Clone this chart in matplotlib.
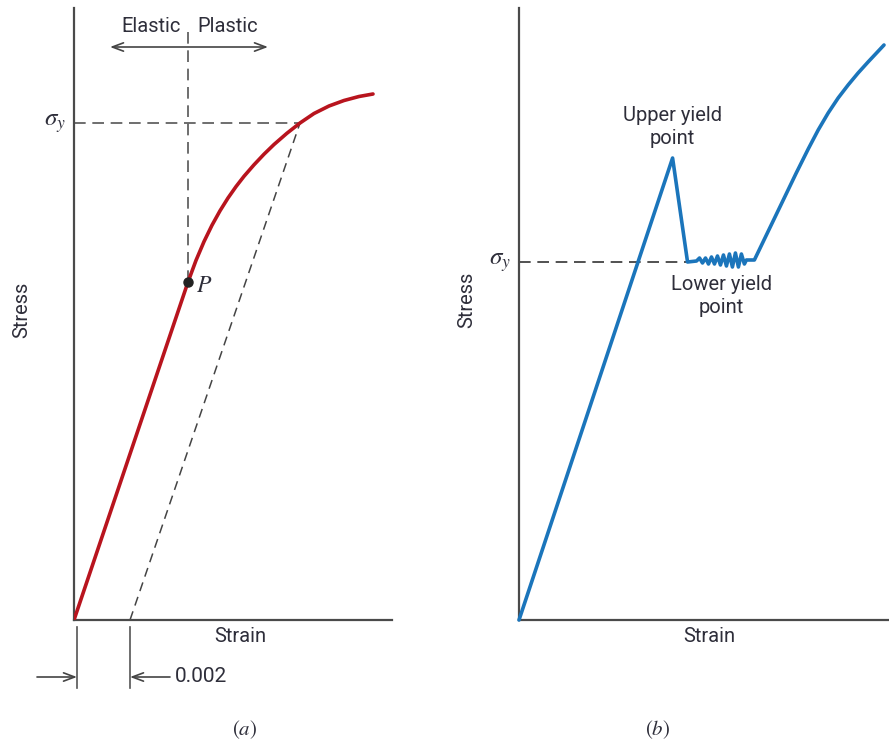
import matplotlib
matplotlib.use("Agg")
import matplotlib.pyplot as plt

plt.rcParams['font.family'] = ['Roboto', 'DejaVu Sans']
plt.rcParams['mathtext.fontset'] = 'stix'

RED = '#b8141e'
BLUE = '#1b75bb'
TXT = '#2e2e3a'
AX = '#4a4a4a'
DASH = '#555555'

# ---- panel (a) data (strain, stress in arbitrary units) ----
a_strain = [0, 114, 122, 130, 138, 146, 154, 162, 170, 180, 190, 200, 213, 226,
            240, 255, 270, 285, 299]
a_stress = [0, 338, 359.6, 378.4, 394.8, 409.2, 422, 433.4, 443.7, 455.2, 465.8,
            475.5, 486.8, 497, 506.5, 514, 519.5, 523.5, 526]
a_P = (114, 338)
a_yield = (226, 497)
a_offset_start = 56          # 0.002 offset strain
a_xlim = (0, 318)
a_ylim = (0, 612)

# ---- panel (b) data ----
b_strain = [0, 154, 169, 178, 181, 184, 187, 190, 193, 196, 199, 202, 205,
            208, 211, 214, 217, 220, 223, 226, 228, 236,
            250, 264, 278, 290, 300, 310, 320, 330, 340, 350, 358, 366]
b_stress = [0, 462, 358, 359, 362, 357, 362, 356, 363, 356, 364, 355, 365,
            354, 366, 353, 367, 353, 366, 356, 360, 360,
            389, 418, 447, 471, 490, 507, 522, 535, 547, 558, 566.5, 575]
b_upper = (154, 462)
b_sigy = 358
b_xlim = (0, 370)
b_ylim = (0, 612)

W, H = 889, 740
fig = plt.figure(figsize=(W / 100, H / 100), dpi=100)

def make_ax(left_px, right_px, top_px, bottom_px):
    ax = fig.add_axes([left_px / W, 1 - bottom_px / H,
                       (right_px - left_px) / W, (bottom_px - top_px) / H])
    ax.set_facecolor('none')
    for s in ['top', 'right']:
        ax.spines[s].set_visible(False)
    for s in ['left', 'bottom']:
        ax.spines[s].set_color(AX)
        ax.spines[s].set_linewidth(1.6)
    ax.set_xticks([])
    ax.set_yticks([])
    return ax

FS = 14.5

# ================= panel (a) =================
axa = make_ax(74, 392, 8, 620)
axa.set_xlim(*a_xlim)
axa.set_ylim(*a_ylim)

axa.plot(a_strain, a_stress, color=RED, lw=2.6, solid_capstyle='round',
         solid_joinstyle='round', zorder=3)
axa.plot([a_P[0]], [a_P[1]], 'o', color='#222222', ms=6.5, zorder=4)
axa.text(a_P[0] + 8, a_P[1] - 3, r'$P$', fontsize=17, color=TXT, va='center', ha='left')

# offset line
axa.plot([a_offset_start, a_yield[0]], [0, a_yield[1]], color='#444444', lw=1.1,
         ls=(0, (6, 4)), zorder=2)
# sigma_y horizontal
axa.plot([0, a_yield[0]], [a_yield[1], a_yield[1]], color=DASH, lw=1.2,
         ls=(0, (7, 4)), zorder=2)
# vertical from P
axa.plot([a_P[0], a_P[0]], [a_P[1], 590], color=DASH, lw=1.2,
         ls=(0, (7, 4)), zorder=2)
axa.text(-8, a_yield[1], r'$\sigma_y$', fontsize=18, color=TXT, ha='right',
         va='center', clip_on=False)

# Elastic / Plastic arrow
axa.annotate('', xy=(36, 573), xytext=(194, 573),
             arrowprops=dict(arrowstyle='<->,head_length=0.8,head_width=0.3',
                             color='#444444', lw=1.2, shrinkA=0, shrinkB=0),
             annotation_clip=False)
axa.text(a_P[0] - 7, 594, 'Elastic', fontsize=FS, color=TXT, ha='right', va='center')
axa.text(a_P[0] + 9, 594, 'Plastic', fontsize=FS, color=TXT, ha='left', va='center')

axa.text(-52, 310, 'Stress', fontsize=FS, color=TXT, rotation=90,
         ha='center', va='center', clip_on=False)
axa.text(166, -16, 'Strain', fontsize=FS, color=TXT, ha='center', va='center',
         clip_on=False)

# 0.002 dimension
for xx in (3, a_offset_start):
    axa.plot([xx, xx], [-7, -68], color='#555555', lw=1.2, clip_on=False)
axa.annotate('', xy=(3, -57), xytext=(-37, -57),
             arrowprops=dict(arrowstyle='->,head_length=0.8,head_width=0.3',
                             color='#444444', lw=1.2, shrinkA=0, shrinkB=0),
             annotation_clip=False)
axa.annotate('', xy=(a_offset_start, -57), xytext=(a_offset_start + 40, -57),
             arrowprops=dict(arrowstyle='->,head_length=0.8,head_width=0.3',
                             color='#444444', lw=1.2, shrinkA=0, shrinkB=0),
             annotation_clip=False)
axa.text(a_offset_start + 45, -57, '0.002', fontsize=15, color=TXT, ha='left',
         va='center', clip_on=False)
axa.text(171, -110, r'$(a)$', fontsize=15, color=TXT, ha='center', va='center',
         clip_on=False)

# ================= panel (b) =================
axb = make_ax(519, 888, 8, 620)
axb.set_xlim(*b_xlim)
axb.set_ylim(*b_ylim)

axb.plot(b_strain, b_stress, color=BLUE, lw=2.6, solid_joinstyle='round',
         solid_capstyle='round', zorder=3, clip_on=False)
axb.plot([0, b_strain[2]], [b_sigy, b_sigy], color='#333333', lw=1.2,
         ls=(0, (7, 4)), zorder=2)
axb.text(-8, b_sigy, r'$\sigma_y$', fontsize=18, color=TXT, ha='right',
         va='center', clip_on=False)

axb.text(b_upper[0], 493, 'Upper yield\npoint', fontsize=FS, color=TXT,
         ha='center', va='center', linespacing=1.3)
axb.text(203, 324, 'Lower yield\npoint', fontsize=FS, color=TXT,
         ha='center', va='center', linespacing=1.3)

axb.text(-52, 320, 'Stress', fontsize=FS, color=TXT, rotation=90,
         ha='center', va='center', clip_on=False)
axb.text(191, -16, 'Strain', fontsize=FS, color=TXT, ha='center', va='center',
         clip_on=False)
axb.text(139, -110, r'$(b)$', fontsize=15, color=TXT, ha='center', va='center',
         clip_on=False)

fig.savefig('out.png', dpi=100)
